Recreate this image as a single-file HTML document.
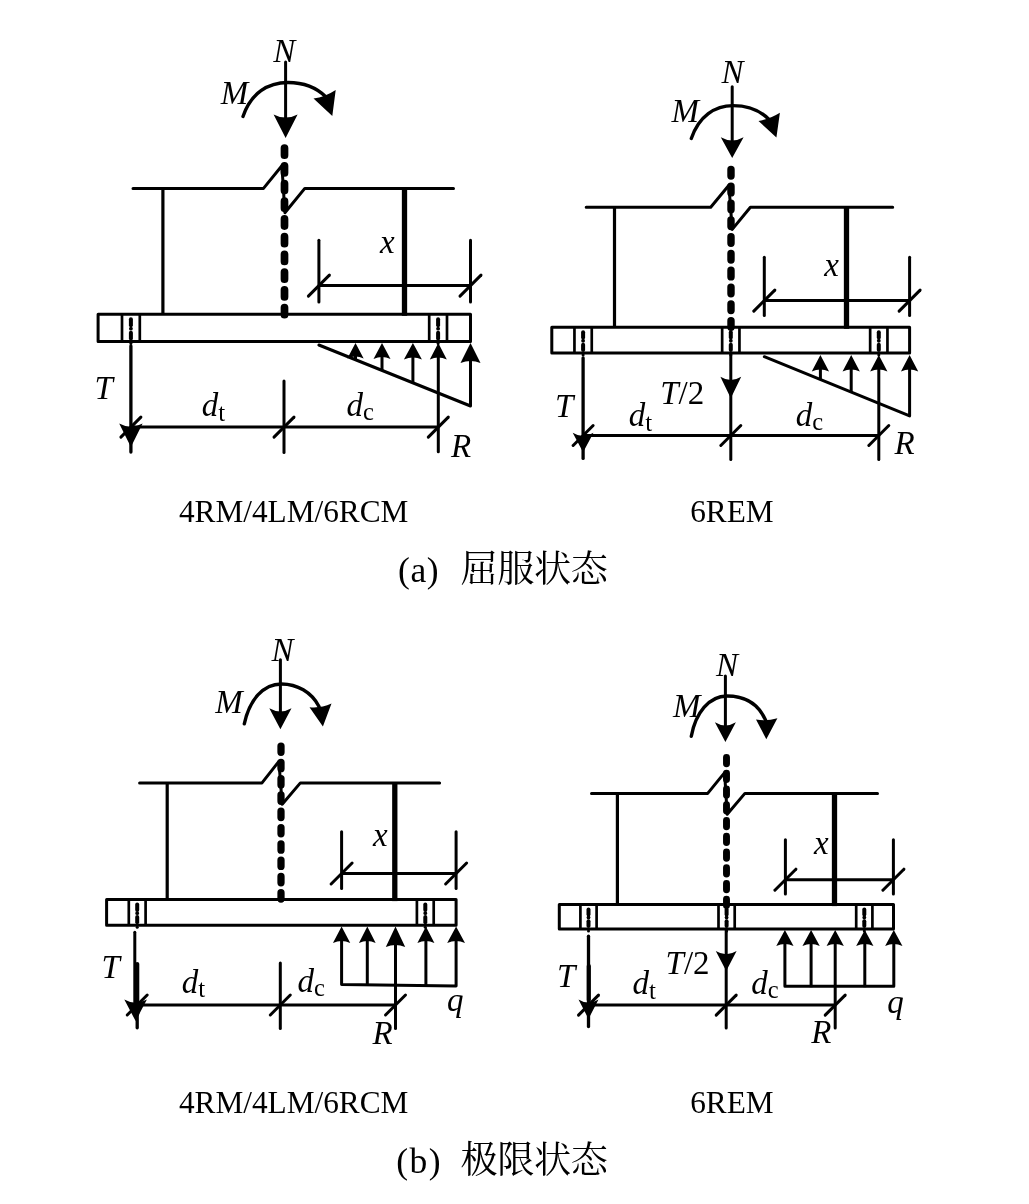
<!DOCTYPE html>
<html lang="zh"><head><meta charset="utf-8"><title>Figure</title>
<style>
html,body{margin:0;padding:0;background:#fff;}
body{width:1029px;height:1204px;overflow:hidden;font-family:"Liberation Serif",serif;}
svg{display:block;will-change:transform;filter:grayscale(1);}
svg text{font-family:"Liberation Serif",serif;fill:#000;}
</style></head>
<body>
<svg width="1029" height="1204" viewBox="0 0 1029 1204">
<rect width="1029" height="1204" fill="#fff"/>
<!-- (a) left: 4RM/4LM/6RCM yield -->
<g><text x="273.2" y="62.4" font-size="33" font-style="italic" text-anchor="start" >N</text>
<line x1="285.6" y1="62" x2="285.6" y2="127.9" stroke="#000" stroke-width="3.0" stroke-linecap="round"/>
<path d="M285.6 137.9 L273.6 114.4 Q285.6 120.8 297.6 114.4 Z" fill="#000"/>
<text x="220.7" y="104.1" font-size="33" font-style="italic" text-anchor="start" >M</text>
<path d="M243 116.5 C251 93 268 82.5 288 82.5 C304 82.5 317 88 326 97" stroke="#000" stroke-width="3.4" fill="none" stroke-linecap="round"/>
<path d="M332.3 116 L313.5 98.5 Q325 97 335.7 90 Z" fill="#000"/>
<path d="M133 188.4 L263.5 188.4 L281.9 165.8 L284.9 212.7 L304.8 188.4 L453.5 188.4" stroke="#000" stroke-width="3.0" fill="none" stroke-linejoin="round" stroke-linecap="round"/>
<line x1="284.5" y1="148.05" x2="284.5" y2="314.66" stroke="#000" stroke-width="7.7" stroke-dasharray="7.12 10.6" stroke-linecap="round"/>
<line x1="162.9" y1="188.4" x2="162.9" y2="314.3" stroke="#000" stroke-width="3.2" />
<line x1="404.5" y1="188.4" x2="404.5" y2="315.8" stroke="#000" stroke-width="5.3" />
<rect x="98.1" y="314.3" width="372.4" height="27.1" fill="none" stroke="#000" stroke-width="3.0" stroke-linejoin="round"/>
<line x1="122" y1="314.3" x2="122" y2="341.4" stroke="#000" stroke-width="2.7" />
<line x1="139.8" y1="314.3" x2="139.8" y2="341.4" stroke="#000" stroke-width="2.7" />
<line x1="130.9" y1="319.3" x2="130.9" y2="325.14" stroke="#000" stroke-width="4" stroke-linecap="round"/>
<line x1="130.9" y1="328.53" x2="130.9" y2="328.66" stroke="#000" stroke-width="3.8" stroke-linecap="round"/>
<line x1="130.9" y1="332.73" x2="130.9" y2="338.4" stroke="#000" stroke-width="4" stroke-linecap="round"/>
<line x1="130.9" y1="343.3" x2="130.9" y2="343.4" stroke="#000" stroke-width="3" stroke-linecap="round"/>
<line x1="429.2" y1="314.3" x2="429.2" y2="341.4" stroke="#000" stroke-width="2.7" />
<line x1="447" y1="314.3" x2="447" y2="341.4" stroke="#000" stroke-width="2.7" />
<line x1="438.1" y1="319.3" x2="438.1" y2="325.14" stroke="#000" stroke-width="4" stroke-linecap="round"/>
<line x1="438.1" y1="328.53" x2="438.1" y2="328.66" stroke="#000" stroke-width="3.8" stroke-linecap="round"/>
<line x1="438.1" y1="332.73" x2="438.1" y2="338.4" stroke="#000" stroke-width="4" stroke-linecap="round"/>
<line x1="438.1" y1="343.3" x2="438.1" y2="343.4" stroke="#000" stroke-width="3" stroke-linecap="round"/>
<line x1="318.9" y1="285.6" x2="470.5" y2="285.6" stroke="#000" stroke-width="3.0" />
<line x1="318.9" y1="240.3" x2="318.9" y2="301.9" stroke="#000" stroke-width="3.0" stroke-linecap="round"/>
<line x1="470.5" y1="240.3" x2="470.5" y2="301.9" stroke="#000" stroke-width="3.0" stroke-linecap="round"/>
<line x1="308.4" y1="296.1" x2="329.4" y2="275.1" stroke="#000" stroke-width="3.0" stroke-linecap="round"/>
<line x1="460" y1="296.1" x2="481" y2="275.1" stroke="#000" stroke-width="3.0" stroke-linecap="round"/>
<text x="380.1" y="253.1" font-size="33" font-style="italic" text-anchor="start" >x</text>
<path d="M318.9 345 L470.5 406 L470.5 349.4" stroke="#000" stroke-width="3.0" fill="none" stroke-linejoin="round" stroke-linecap="round"/>
<line x1="355.5" y1="349.4" x2="355.5" y2="359.73" stroke="#000" stroke-width="3.0" />
<path d="M355.5 343.1 L347.35 358.4 Q355.5 354.4 363.65 358.4 Z" fill="#000"/>
<line x1="382" y1="349.4" x2="382" y2="370.39" stroke="#000" stroke-width="3.0" />
<path d="M382 343.1 L373.5 359.1 Q382 355.1 390.5 359.1 Z" fill="#000"/>
<line x1="412.9" y1="349.4" x2="412.9" y2="382.82" stroke="#000" stroke-width="3.0" />
<path d="M412.9 343.1 L403.9 359.6 Q412.9 355.6 421.9 359.6 Z" fill="#000"/>
<path d="M438.3 343.1 L429.8 359.6 Q438.3 355.6 446.8 359.6 Z" fill="#000"/>
<path d="M470.5 343.1 L460.5 363.1 Q470.5 359.1 480.5 363.1 Z" fill="#000"/>
<line x1="130.9" y1="346" x2="130.9" y2="452" stroke="#000" stroke-width="3.3" stroke-linecap="round"/>
<path d="M130.9 447 L119.2 423.5 Q130.9 429.9 142.6 423.5 Z" fill="#000"/>
<text x="94.6" y="398.6" font-size="33" font-style="italic" text-anchor="start" >T</text>
<line x1="284" y1="381" x2="284" y2="452.5" stroke="#000" stroke-width="3.0" stroke-linecap="round"/>
<line x1="130.9" y1="427.1" x2="438.3" y2="427.1" stroke="#000" stroke-width="3.0" />
<line x1="120.9" y1="437.1" x2="140.9" y2="417.1" stroke="#000" stroke-width="3.0" stroke-linecap="round"/>
<line x1="274" y1="437.1" x2="294" y2="417.1" stroke="#000" stroke-width="3.0" stroke-linecap="round"/>
<line x1="428.3" y1="437.1" x2="448.3" y2="417.1" stroke="#000" stroke-width="3.0" stroke-linecap="round"/>
<line x1="438.3" y1="349" x2="438.3" y2="451.8" stroke="#000" stroke-width="3.0" stroke-linecap="round"/>
<text x="201.7" y="415.8" font-size="33"><tspan font-style="italic">d</tspan><tspan font-size="25" dy="4.8">t</tspan></text>
<text x="346.6" y="415.8" font-size="33"><tspan font-style="italic">d</tspan><tspan font-size="24.5" dy="4">c</tspan></text>
<text x="451.1" y="456.5" font-size="33" font-style="italic" text-anchor="start" >R</text></g>
<!-- (a) right: 6REM yield -->
<g><text x="721.5" y="82.5" font-size="33" font-style="italic" text-anchor="start" >N</text>
<line x1="732.2" y1="86.7" x2="732.2" y2="147.9" stroke="#000" stroke-width="3.0" stroke-linecap="round"/>
<path d="M732.2 157.9 L720.8 137.2 Q732.2 143.6 743.6 137.2 Z" fill="#000"/>
<text x="671.6" y="121.6" font-size="33" font-style="italic" text-anchor="start" >M</text>
<path d="M691.3 138.5 C699 116 715 105.6 733 105.6 C748 105.6 761 111 769.5 120" stroke="#000" stroke-width="3.4" fill="none" stroke-linecap="round"/>
<path d="M776.4 137.5 L758.5 121 Q769 119.5 779.9 112.8 Z" fill="#000"/>
<path d="M586.2 207.2 L710.7 207.2 L728.9 185.2 L732.2 229.4 L750.4 207.2 L892.7 207.2" stroke="#000" stroke-width="3.0" fill="none" stroke-linejoin="round" stroke-linecap="round"/>
<line x1="731" y1="169.51" x2="731" y2="327.3" stroke="#000" stroke-width="7.42" stroke-dasharray="6.58 10.22" stroke-linecap="round"/>
<line x1="614.5" y1="207.2" x2="614.5" y2="327.3" stroke="#000" stroke-width="3.2" />
<line x1="846.5" y1="207.2" x2="846.5" y2="328.8" stroke="#000" stroke-width="5.3" />
<rect x="551.8" y="327.3" width="357.8" height="25.6" fill="none" stroke="#000" stroke-width="3.0" stroke-linejoin="round"/>
<line x1="574.45" y1="327.3" x2="574.45" y2="352.9" stroke="#000" stroke-width="2.7" />
<line x1="591.75" y1="327.3" x2="591.75" y2="352.9" stroke="#000" stroke-width="2.7" />
<line x1="583.1" y1="332.3" x2="583.1" y2="337.54" stroke="#000" stroke-width="4" stroke-linecap="round"/>
<line x1="583.1" y1="340.74" x2="583.1" y2="340.87" stroke="#000" stroke-width="3.8" stroke-linecap="round"/>
<line x1="583.1" y1="344.71" x2="583.1" y2="349.9" stroke="#000" stroke-width="4" stroke-linecap="round"/>
<line x1="583.1" y1="354.8" x2="583.1" y2="354.9" stroke="#000" stroke-width="3" stroke-linecap="round"/>
<line x1="722.15" y1="327.3" x2="722.15" y2="352.9" stroke="#000" stroke-width="2.7" />
<line x1="739.45" y1="327.3" x2="739.45" y2="352.9" stroke="#000" stroke-width="2.7" />
<line x1="730.8" y1="332.3" x2="730.8" y2="337.54" stroke="#000" stroke-width="4" stroke-linecap="round"/>
<line x1="730.8" y1="340.74" x2="730.8" y2="340.87" stroke="#000" stroke-width="3.8" stroke-linecap="round"/>
<line x1="730.8" y1="344.71" x2="730.8" y2="349.9" stroke="#000" stroke-width="4" stroke-linecap="round"/>
<line x1="730.8" y1="354.8" x2="730.8" y2="354.9" stroke="#000" stroke-width="3" stroke-linecap="round"/>
<line x1="870.15" y1="327.3" x2="870.15" y2="352.9" stroke="#000" stroke-width="2.7" />
<line x1="887.45" y1="327.3" x2="887.45" y2="352.9" stroke="#000" stroke-width="2.7" />
<line x1="878.8" y1="332.3" x2="878.8" y2="337.54" stroke="#000" stroke-width="4" stroke-linecap="round"/>
<line x1="878.8" y1="340.74" x2="878.8" y2="340.87" stroke="#000" stroke-width="3.8" stroke-linecap="round"/>
<line x1="878.8" y1="344.71" x2="878.8" y2="349.9" stroke="#000" stroke-width="4" stroke-linecap="round"/>
<line x1="878.8" y1="354.8" x2="878.8" y2="354.9" stroke="#000" stroke-width="3" stroke-linecap="round"/>
<line x1="764.3" y1="300.6" x2="909.6" y2="300.6" stroke="#000" stroke-width="3.0" />
<line x1="764.3" y1="257.3" x2="764.3" y2="315.5" stroke="#000" stroke-width="3.0" stroke-linecap="round"/>
<line x1="909.6" y1="257.3" x2="909.6" y2="315.5" stroke="#000" stroke-width="3.0" stroke-linecap="round"/>
<line x1="753.8" y1="311.1" x2="774.8" y2="290.1" stroke="#000" stroke-width="3.0" stroke-linecap="round"/>
<line x1="899.1" y1="311.1" x2="920.1" y2="290.1" stroke="#000" stroke-width="3.0" stroke-linecap="round"/>
<text x="824.3" y="275.9" font-size="33" font-style="italic" text-anchor="start" >x</text>
<path d="M764.3 356.7 L909.6 415.9 L909.6 360.9" stroke="#000" stroke-width="3.0" fill="none" stroke-linejoin="round" stroke-linecap="round"/>
<line x1="820.4" y1="360.9" x2="820.4" y2="379.56" stroke="#000" stroke-width="3.0" />
<path d="M820.4 355.1 L811.75 371.4 Q820.4 367.4 829.05 371.4 Z" fill="#000"/>
<line x1="851.2" y1="360.9" x2="851.2" y2="392.11" stroke="#000" stroke-width="3.0" />
<path d="M851.2 355.1 L842.55 371.4 Q851.2 367.4 859.85 371.4 Z" fill="#000"/>
<path d="M878.8 355.1 L870.15 371.4 Q878.8 367.4 887.45 371.4 Z" fill="#000"/>
<path d="M909.6 355.1 L900.95 371.4 Q909.6 367.4 918.25 371.4 Z" fill="#000"/>
<line x1="583.1" y1="358" x2="583.1" y2="458.4" stroke="#000" stroke-width="3.3" stroke-linecap="round"/>
<path d="M583.1 452.2 L572.7 432.7 Q583.1 439.1 593.5 432.7 Z" fill="#000"/>
<text x="554.9" y="417.2" font-size="33" font-style="italic" text-anchor="start" >T</text>
<line x1="730.8" y1="352.9" x2="730.8" y2="459.4" stroke="#000" stroke-width="3.0" stroke-linecap="round"/>
<path d="M730.8 398.2 L720.4 376.7 Q730.8 383.1 741.2 376.7 Z" fill="#000"/>
<text x="660.2" y="403.9" font-size="33"><tspan font-style="italic">T</tspan>/2</text>
<line x1="583.1" y1="435.5" x2="878.8" y2="435.5" stroke="#000" stroke-width="3.0" />
<line x1="573.1" y1="445.5" x2="593.1" y2="425.5" stroke="#000" stroke-width="3.0" stroke-linecap="round"/>
<line x1="720.8" y1="445.5" x2="740.8" y2="425.5" stroke="#000" stroke-width="3.0" stroke-linecap="round"/>
<line x1="868.8" y1="445.5" x2="888.8" y2="425.5" stroke="#000" stroke-width="3.0" stroke-linecap="round"/>
<line x1="878.8" y1="361" x2="878.8" y2="459.4" stroke="#000" stroke-width="3.0" stroke-linecap="round"/>
<text x="628.8" y="425.7" font-size="33"><tspan font-style="italic">d</tspan><tspan font-size="25" dy="4.8">t</tspan></text>
<text x="795.7" y="425.7" font-size="33"><tspan font-style="italic">d</tspan><tspan font-size="24.5" dy="4">c</tspan></text>
<text x="894.5" y="454.3" font-size="33" font-style="italic" text-anchor="start" >R</text></g>
<!-- (b) left: 4RM/4LM/6RCM ultimate -->
<g><text x="271.4" y="661.2" font-size="33" font-style="italic" text-anchor="start" >N</text>
<line x1="280.4" y1="659.8" x2="280.4" y2="719.3" stroke="#000" stroke-width="3.0" stroke-linecap="round"/>
<path d="M280.4 729.3 L269.3 708.3 Q280.4 714.7 291.5 708.3 Z" fill="#000"/>
<text x="215.3" y="712.5" font-size="33" font-style="italic" text-anchor="start" >M</text>
<path d="M244.3 723.8 C249.5 700 263 684 281.5 684 C297 684 311.5 692 319 706.5" stroke="#000" stroke-width="3.4" fill="none" stroke-linecap="round"/>
<path d="M322.9 726.5 L309.5 707.2 Q320.8 708.4 331.5 703.6 Z" fill="#000"/>
<path d="M139.6 782.9 L262 782.9 L278.9 761.4 L282.2 804.3 L300.4 782.9 L439.6 782.9" stroke="#000" stroke-width="3.0" fill="none" stroke-linejoin="round" stroke-linecap="round"/>
<line x1="281" y1="746.02" x2="281" y2="899.09" stroke="#000" stroke-width="7.25" stroke-dasharray="6.33 9.97" stroke-linecap="round"/>
<line x1="167.2" y1="782.9" x2="167.2" y2="899.6" stroke="#000" stroke-width="3.2" />
<line x1="394.8" y1="782.9" x2="394.8" y2="901.1" stroke="#000" stroke-width="5.3" />
<rect x="106.6" y="899.6" width="349.5" height="25.7" fill="none" stroke="#000" stroke-width="3.0" stroke-linejoin="round"/>
<line x1="128.8" y1="899.6" x2="128.8" y2="925.3" stroke="#000" stroke-width="2.7" />
<line x1="145.6" y1="899.6" x2="145.6" y2="925.3" stroke="#000" stroke-width="2.7" />
<line x1="137.2" y1="904.6" x2="137.2" y2="909.88" stroke="#000" stroke-width="4" stroke-linecap="round"/>
<line x1="137.2" y1="913.09" x2="137.2" y2="913.22" stroke="#000" stroke-width="3.8" stroke-linecap="round"/>
<line x1="137.2" y1="917.08" x2="137.2" y2="922.3" stroke="#000" stroke-width="4" stroke-linecap="round"/>
<line x1="137.2" y1="927.2" x2="137.2" y2="927.3" stroke="#000" stroke-width="3" stroke-linecap="round"/>
<line x1="416.9" y1="899.6" x2="416.9" y2="925.3" stroke="#000" stroke-width="2.7" />
<line x1="433.7" y1="899.6" x2="433.7" y2="925.3" stroke="#000" stroke-width="2.7" />
<line x1="425.3" y1="904.6" x2="425.3" y2="909.88" stroke="#000" stroke-width="4" stroke-linecap="round"/>
<line x1="425.3" y1="913.09" x2="425.3" y2="913.22" stroke="#000" stroke-width="3.8" stroke-linecap="round"/>
<line x1="425.3" y1="917.08" x2="425.3" y2="922.3" stroke="#000" stroke-width="4" stroke-linecap="round"/>
<line x1="425.3" y1="927.2" x2="425.3" y2="927.3" stroke="#000" stroke-width="3" stroke-linecap="round"/>
<line x1="341.6" y1="873.5" x2="456.1" y2="873.5" stroke="#000" stroke-width="3.0" />
<line x1="341.6" y1="831.8" x2="341.6" y2="888.4" stroke="#000" stroke-width="3.0" stroke-linecap="round"/>
<line x1="456.1" y1="831.8" x2="456.1" y2="888.4" stroke="#000" stroke-width="3.0" stroke-linecap="round"/>
<line x1="331.1" y1="884" x2="352.1" y2="863" stroke="#000" stroke-width="3.0" stroke-linecap="round"/>
<line x1="445.6" y1="884" x2="466.6" y2="863" stroke="#000" stroke-width="3.0" stroke-linecap="round"/>
<text x="373" y="845.7" font-size="33" font-style="italic" text-anchor="start" >x</text>
<path d="M341.6 933.3 L341.6 984.6 L456.1 986.1 L456.1 933.3" stroke="#000" stroke-width="3.0" fill="none" stroke-linejoin="round"/>
<path d="M341.6 926.5 L332.95 943 Q341.6 939 350.25 943 Z" fill="#000"/>
<line x1="367.3" y1="933.3" x2="367.3" y2="985.6" stroke="#000" stroke-width="3.0" />
<path d="M367.3 926.5 L358.95 943 Q367.3 939 375.65 943 Z" fill="#000"/>
<path d="M395.5 926.5 L385.8 946.9 Q395.5 942.9 405.2 946.9 Z" fill="#000"/>
<line x1="425.9" y1="933.3" x2="425.9" y2="985.6" stroke="#000" stroke-width="3.0" />
<path d="M425.9 926.5 L417.4 943 Q425.9 939 434.4 943 Z" fill="#000"/>
<path d="M456.1 926.5 L447.2 943 Q456.1 939 465 943 Z" fill="#000"/>
<line x1="134.8" y1="932.2" x2="134.8" y2="1004" stroke="#000" stroke-width="3" stroke-linecap="round"/>
<line x1="137.2" y1="964" x2="137.2" y2="1014" stroke="#000" stroke-width="4.2" stroke-linecap="round"/>
<line x1="137.2" y1="1010" x2="137.2" y2="1027.8" stroke="#000" stroke-width="3.3" stroke-linecap="round"/>
<path d="M135.6 1021 L124.3 999.5 Q135.6 1005.9 146.9 999.5 Z" fill="#000"/>
<text x="101.4" y="977.8" font-size="33" font-style="italic" text-anchor="start" >T</text>
<line x1="280.3" y1="962.9" x2="280.3" y2="1028.6" stroke="#000" stroke-width="3.0" stroke-linecap="round"/>
<line x1="137.2" y1="1005" x2="395.5" y2="1005" stroke="#000" stroke-width="3.0" />
<line x1="127.2" y1="1015" x2="147.2" y2="995" stroke="#000" stroke-width="3.0" stroke-linecap="round"/>
<line x1="270.3" y1="1015" x2="290.3" y2="995" stroke="#000" stroke-width="3.0" stroke-linecap="round"/>
<line x1="385.5" y1="1015" x2="405.5" y2="995" stroke="#000" stroke-width="3.0" stroke-linecap="round"/>
<line x1="395.5" y1="932" x2="395.5" y2="1028.6" stroke="#000" stroke-width="3.0" stroke-linecap="round"/>
<text x="181.7" y="992.6" font-size="33"><tspan font-style="italic">d</tspan><tspan font-size="25" dy="4.8">t</tspan></text>
<text x="297.4" y="992.2" font-size="33"><tspan font-style="italic">d</tspan><tspan font-size="24.5" dy="4">c</tspan></text>
<text x="372.4" y="1043.7" font-size="33" font-style="italic" text-anchor="start" >R</text>
<text x="447.1" y="1011.1" font-size="33" font-style="italic" text-anchor="start" >q</text></g>
<!-- (b) right: 6REM ultimate -->
<g><text x="715.9" y="675.5" font-size="33" font-style="italic" text-anchor="start" >N</text>
<line x1="725.4" y1="675.9" x2="725.4" y2="732" stroke="#000" stroke-width="3.0" stroke-linecap="round"/>
<path d="M725.4 742 L714.9 722.2 Q725.4 728.6 735.9 722.2 Z" fill="#000"/>
<text x="673.1" y="716.7" font-size="33" font-style="italic" text-anchor="start" >M</text>
<path d="M691.3 736.3 C695.5 713 709 696 727 696 C742 696 757.5 702 765.5 720" stroke="#000" stroke-width="3.4" fill="none" stroke-linecap="round"/>
<path d="M766.3 739.2 L756 719.5 Q766.6 721.5 777.4 718.2 Z" fill="#000"/>
<path d="M591.5 793.4 L707.7 793.4 L724.6 772.6 L727.2 814.3 L744.9 793.4 L877.5 793.4" stroke="#000" stroke-width="3.0" fill="none" stroke-linejoin="round" stroke-linecap="round"/>
<line x1="726.5" y1="757.56" x2="726.5" y2="905.55" stroke="#000" stroke-width="6.91" stroke-dasharray="6.23 9.52" stroke-linecap="round"/>
<line x1="617.4" y1="793.4" x2="617.4" y2="904.6" stroke="#000" stroke-width="3.2" />
<line x1="834.5" y1="793.4" x2="834.5" y2="906.1" stroke="#000" stroke-width="5.3" />
<rect x="559.3" y="904.6" width="334.2" height="24.5" fill="none" stroke="#000" stroke-width="3.0" stroke-linejoin="round"/>
<line x1="580.4" y1="904.6" x2="580.4" y2="929.1" stroke="#000" stroke-width="2.7" />
<line x1="596.6" y1="904.6" x2="596.6" y2="929.1" stroke="#000" stroke-width="2.7" />
<line x1="588.5" y1="909.6" x2="588.5" y2="914.4" stroke="#000" stroke-width="4" stroke-linecap="round"/>
<line x1="588.5" y1="917.46" x2="588.5" y2="917.59" stroke="#000" stroke-width="3.8" stroke-linecap="round"/>
<line x1="588.5" y1="921.26" x2="588.5" y2="926.1" stroke="#000" stroke-width="4" stroke-linecap="round"/>
<line x1="588.5" y1="931" x2="588.5" y2="931.1" stroke="#000" stroke-width="3" stroke-linecap="round"/>
<line x1="718.5" y1="904.6" x2="718.5" y2="929.1" stroke="#000" stroke-width="2.7" />
<line x1="734.7" y1="904.6" x2="734.7" y2="929.1" stroke="#000" stroke-width="2.7" />
<line x1="726.6" y1="909.6" x2="726.6" y2="914.4" stroke="#000" stroke-width="4" stroke-linecap="round"/>
<line x1="726.6" y1="917.46" x2="726.6" y2="917.59" stroke="#000" stroke-width="3.8" stroke-linecap="round"/>
<line x1="726.6" y1="921.26" x2="726.6" y2="926.1" stroke="#000" stroke-width="4" stroke-linecap="round"/>
<line x1="726.6" y1="931" x2="726.6" y2="931.1" stroke="#000" stroke-width="3" stroke-linecap="round"/>
<line x1="856.2" y1="904.6" x2="856.2" y2="929.1" stroke="#000" stroke-width="2.7" />
<line x1="872.4" y1="904.6" x2="872.4" y2="929.1" stroke="#000" stroke-width="2.7" />
<line x1="864.3" y1="909.6" x2="864.3" y2="914.4" stroke="#000" stroke-width="4" stroke-linecap="round"/>
<line x1="864.3" y1="917.46" x2="864.3" y2="917.59" stroke="#000" stroke-width="3.8" stroke-linecap="round"/>
<line x1="864.3" y1="921.26" x2="864.3" y2="926.1" stroke="#000" stroke-width="4" stroke-linecap="round"/>
<line x1="864.3" y1="931" x2="864.3" y2="931.1" stroke="#000" stroke-width="3" stroke-linecap="round"/>
<line x1="785.4" y1="879.7" x2="893.4" y2="879.7" stroke="#000" stroke-width="3.0" />
<line x1="785.4" y1="839.7" x2="785.4" y2="894" stroke="#000" stroke-width="3.0" stroke-linecap="round"/>
<line x1="893.4" y1="839.7" x2="893.4" y2="894" stroke="#000" stroke-width="3.0" stroke-linecap="round"/>
<line x1="774.9" y1="890.2" x2="795.9" y2="869.2" stroke="#000" stroke-width="3.0" stroke-linecap="round"/>
<line x1="882.9" y1="890.2" x2="903.9" y2="869.2" stroke="#000" stroke-width="3.0" stroke-linecap="round"/>
<text x="814" y="854.2" font-size="33" font-style="italic" text-anchor="start" >x</text>
<path d="M784.9 937.1 L784.9 986.2 L893.8 986.2 L893.8 937.1" stroke="#000" stroke-width="3.0" fill="none" stroke-linejoin="round"/>
<path d="M784.9 930.1 L776.25 945.9 Q784.9 941.9 793.55 945.9 Z" fill="#000"/>
<line x1="811.1" y1="937.1" x2="811.1" y2="987.2" stroke="#000" stroke-width="3.0" />
<path d="M811.1 930.1 L802.45 945.9 Q811.1 941.9 819.75 945.9 Z" fill="#000"/>
<path d="M835.2 930.1 L826.55 945.9 Q835.2 941.9 843.85 945.9 Z" fill="#000"/>
<line x1="864.8" y1="937.1" x2="864.8" y2="987.2" stroke="#000" stroke-width="3.0" />
<path d="M864.8 930.1 L856.15 945.9 Q864.8 941.9 873.45 945.9 Z" fill="#000"/>
<path d="M893.8 930.1 L885.15 945.9 Q893.8 941.9 902.45 945.9 Z" fill="#000"/>
<line x1="588.5" y1="936.2" x2="588.5" y2="1026.6" stroke="#000" stroke-width="3.3" stroke-linecap="round"/>
<line x1="588.8" y1="966" x2="588.8" y2="1000" stroke="#000" stroke-width="4.2" stroke-linecap="round"/>
<path d="M588.5 1018.9 L578.5 999.4 Q588.5 1005.8 598.5 999.4 Z" fill="#000"/>
<text x="557.1" y="986.8" font-size="33" font-style="italic" text-anchor="start" >T</text>
<line x1="726.2" y1="929.1" x2="726.2" y2="1028" stroke="#000" stroke-width="3.0" stroke-linecap="round"/>
<path d="M726.2 970.9 L715.8 951.1 Q726.2 957.5 736.6 951.1 Z" fill="#000"/>
<text x="665.6" y="973.6" font-size="33"><tspan font-style="italic">T</tspan>/2</text>
<line x1="588.5" y1="1005.1" x2="835.2" y2="1005.1" stroke="#000" stroke-width="3.0" />
<line x1="578.5" y1="1015.1" x2="598.5" y2="995.1" stroke="#000" stroke-width="3.0" stroke-linecap="round"/>
<line x1="716.2" y1="1015.1" x2="736.2" y2="995.1" stroke="#000" stroke-width="3.0" stroke-linecap="round"/>
<line x1="825.2" y1="1015.1" x2="845.2" y2="995.1" stroke="#000" stroke-width="3.0" stroke-linecap="round"/>
<line x1="835.2" y1="935" x2="835.2" y2="1028" stroke="#000" stroke-width="3.0" stroke-linecap="round"/>
<text x="632.6" y="994" font-size="33"><tspan font-style="italic">d</tspan><tspan font-size="25" dy="4.8">t</tspan></text>
<text x="751.3" y="994" font-size="33"><tspan font-style="italic">d</tspan><tspan font-size="24.5" dy="4">c</tspan></text>
<text x="811.3" y="1043" font-size="33" font-style="italic" text-anchor="start" >R</text>
<text x="887.2" y="1012.7" font-size="33" font-style="italic" text-anchor="start" >q</text></g>
<!-- captions -->
<text x="178.9" y="522" font-size="31.3" font-style="normal" text-anchor="start" >4RM/4LM/6RCM</text>
<text x="690.2" y="522" font-size="31.3" font-style="normal" text-anchor="start" >6REM</text>
<text x="178.9" y="1113" font-size="31.3" font-style="normal" text-anchor="start" >4RM/4LM/6RCM</text>
<text x="690.2" y="1113" font-size="31.3" font-style="normal" text-anchor="start" >6REM</text>
<text x="398" y="582" font-size="35.5" font-style="normal" text-anchor="start" letter-spacing="0.6">(a)</text>
<text x="396.3" y="1173" font-size="35.5" font-style="normal" text-anchor="start" letter-spacing="1.5">(b)</text>
<text x="460.6" y="581.9" font-size="37.2" text-anchor="start" textLength="147.3" lengthAdjust="spacing" style="font-family:'Liberation Serif','Noto Serif CJK SC',serif">屈服状态</text>
<text x="460.6" y="1172.9" font-size="37.2" text-anchor="start" textLength="147.3" lengthAdjust="spacing" style="font-family:'Liberation Serif','Noto Serif CJK SC',serif">极限状态</text>
</svg>
</body></html>
